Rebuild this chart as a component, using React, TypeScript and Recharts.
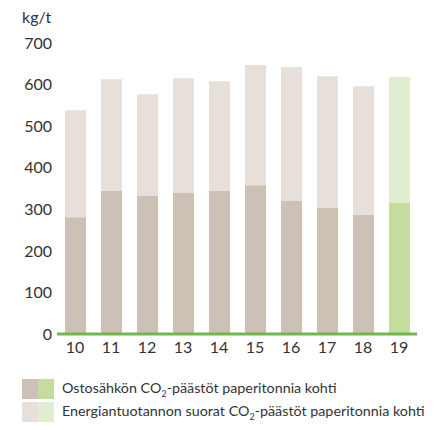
import { BarChart, Bar, XAxis, YAxis, Cell } from 'recharts';

const years = ['10', '11', '12', '13', '14', '15', '16', '17', '18', '19'];
// Ostosähkön CO2-päästöt (kg/t)
const purchasedElectricity = [281, 344, 332, 339, 344, 358, 320, 303, 286, 315];
// Energiantuotannon suorat CO2-päästöt (kg/t)
const directEmissions = [257, 269, 245, 276, 264, 289, 322, 317, 310, 303];
const yTicks = [0, 100, 200, 300, 400, 500, 600, 700];

const FONT = 'Lato, "DejaVu Sans", sans-serif';
const TEXT = '#333';
const BROWN_DARK = '#cdc1b5';
const BROWN_LIGHT = '#e6dfda';
const GREEN_DARK = '#c4dd9f';
const GREEN_LIGHT = '#e1edd0';
const AXIS_GREEN = '#74b64a';

const data = years.map((year, i) => ({
  year,
  electricity: purchasedElectricity[i],
  direct: directEmissions[i],
}));

function LegendRow({ dark, light, children }: { dark: string; light: string; children: any }) {
  return (
    <div style={{ display: 'flex', alignItems: 'center', height: 21 }}>
      <div style={{ width: 16, height: 20, background: dark }} />
      <div style={{ width: 16, height: 20, background: light }} />
      <div style={{ marginLeft: 8, fontSize: 14.3, color: TEXT, whiteSpace: 'nowrap' }}>
        {children}
      </div>
    </div>
  );
}

function App() {
  const last = years.length - 1;
  return (
    <div style={{ position: 'absolute', top: 0, left: 0, width: 443, height: 430, background: '#fff', fontFamily: FONT }}>
      <div style={{ position: 'absolute', left: 22, top: 7, fontSize: 16, color: TEXT }}>kg/t</div>
      <BarChart
        width={443}
        height={362}
        data={data}
        margin={{ top: 43, right: 26, bottom: 0, left: 0 }}
      >
        <YAxis
          domain={[0, 700]}
          ticks={yTicks}
          width={57}
          axisLine={false}
          tickLine={false}
          tickSize={0}
          tickMargin={5}
          tick={{ fill: TEXT, fontSize: 16, fontFamily: FONT }}
        />
        <XAxis
          dataKey="year"
          height={28}
          axisLine={{ stroke: AXIS_GREEN, strokeWidth: 3 }}
          tickLine={false}
          tickSize={0}
          tickMargin={8}
          tick={{ fill: TEXT, fontSize: 16, fontFamily: FONT }}
        />
        <Bar dataKey="electricity" stackId="a" barSize={21} isAnimationActive={false}>
          {data.map((d, i) => (
            <Cell key={d.year} fill={i === last ? GREEN_DARK : BROWN_DARK} />
          ))}
        </Bar>
        <Bar dataKey="direct" stackId="a" barSize={21} isAnimationActive={false}>
          {data.map((d, i) => (
            <Cell key={d.year} fill={i === last ? GREEN_LIGHT : BROWN_LIGHT} />
          ))}
        </Bar>
      </BarChart>
      <div style={{ position: 'absolute', left: 22, top: 378 }}>
        <LegendRow dark={BROWN_DARK} light={GREEN_DARK}>
          Ostosähkön CO<sub style={{ fontSize: 9 }}>2</sub>-päästöt paperitonnia kohti
        </LegendRow>
        <div style={{ height: 2 }} />
        <LegendRow dark={BROWN_LIGHT} light={GREEN_LIGHT}>
          Energiantuotannon suorat CO<sub style={{ fontSize: 9 }}>2</sub>-päästöt paperitonnia kohti
        </LegendRow>
      </div>
    </div>
  );
}

export default App;
